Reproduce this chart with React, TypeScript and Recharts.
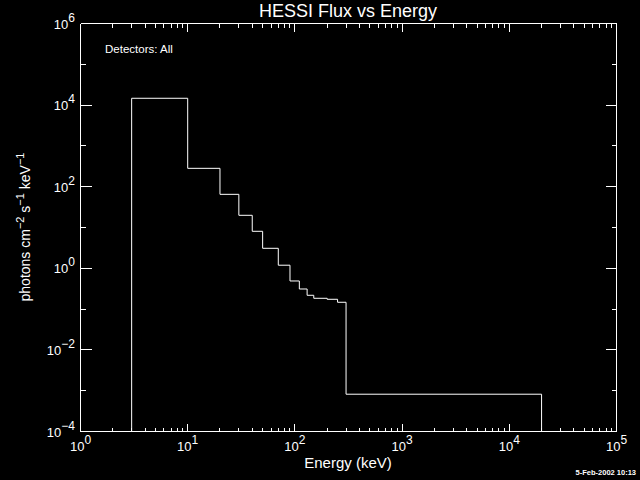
import * as React from 'react';
import { Line, LineChart, ReferenceLine, XAxis, YAxis } from 'recharts';

// bin edges (keV) and flux per bin
const binEdges = [3, 10, 20, 30, 40, 50, 70, 90, 110, 130, 150, 200, 250, 300, 20000];
const binFlux = [1.47e4, 282, 65, 19.9, 8.07, 3.09, 1.19, 0.489, 0.311, 0.218, 0.184, 0.174, 0.147, 8.2e-4];
const fluxFloor = 1e-4;

const xMajorTicks = [1, 10, 100, 1000, 10000, 100000];
const xMinorSteps = [2, 3, 4, 5, 6, 7, 8, 9];
const yTicks = [1e-4, 1e-3, 1e-2, 1e-1, 1, 10, 100, 1e3, 1e4, 1e5, 1e6];

const FONT = '"Liberation Sans", Arial, sans-serif';
const WHITE = '#ffffff';

const xMinorTicks = xMajorTicks.slice(0, -1).flatMap((m) => xMinorSteps.map((s) => m * s));

// step histogram: start at the floor, one point per bin start, close at the floor
const data = [
    { energy: binEdges[0], flux: fluxFloor },
    ...binFlux.map((f, i) => ({ energy: binEdges[i], flux: f })),
    { energy: binEdges[binEdges.length - 1], flux: fluxFloor },
];

function expOf(v: number) {
    return Math.round(Math.log10(v));
}

function fmtExp(e: number) {
    return e < 0 ? `\u2212${-e}` : String(e);
}

const snap = (v: number) => Math.round(v - 0.5) + 0.5;

function XLabel(props: any) {
    const { x, y, payload } = props;
    return (
        <text x={x} y={y + 19} textAnchor="middle" fill={WHITE} stroke="none" fontSize={13} fontFamily={FONT}>
            10
            <tspan dy={-7} fontSize={12}>
                {fmtExp(expOf(payload.value))}
            </tspan>
        </text>
    );
}

// inward x tick marks at both frame edges, drawn from the reference line's coordinates
function tickMarks(len: number) {
    return (p: any) => {
        const x = snap(p.x1);
        const top = Math.min(p.y1, p.y2);
        const bottom = Math.max(p.y1, p.y2);
        return (
            <g>
                <path
                    d={`M${x},${bottom}V${bottom - len}M${x},${top}V${top + len}`}
                    stroke={WHITE}
                    strokeWidth={1}
                    fill="none"
                    shapeRendering="crispEdges"
                />
            </g>
        );
    };
}

function YTick(props: any) {
    const { x, y, payload, side } = props;
    const e = expOf(payload.value);
    const labelled = e % 2 === 0;
    const len = labelled ? 11 : 5;
    const dir = side === 'left' ? 1 : -1;
    const sy = snap(y);
    return (
        <g>
            <path
                d={`M${x},${sy}H${x + dir * len}`}
                stroke={WHITE}
                strokeWidth={1}
                fill="none"
                shapeRendering="crispEdges"
            />
            {side === 'left' && labelled ? (
                <text x={x - 5.5} y={y + 5} textAnchor="end" fill={WHITE} stroke="none" fontSize={13} fontFamily={FONT}>
                    10
                    <tspan dy={-7} fontSize={12}>
                        {fmtExp(e)}
                    </tspan>
                </text>
            ) : null}
        </g>
    );
}

const logX = {
    dataKey: 'energy',
    type: 'number' as const,
    scale: 'log' as const,
    domain: [1, 1e5],
    allowDataOverflow: true,
    interval: 0 as const,
    ticks: xMajorTicks,
    height: 1,
    tickSize: 0,
    tickMargin: 0,
    tickLine: false,
    axisLine: { stroke: WHITE, shapeRendering: 'crispEdges' },
};

const logY = {
    type: 'number' as const,
    scale: 'log' as const,
    domain: [1e-4, 1e6],
    allowDataOverflow: true,
    interval: 0 as const,
    ticks: yTicks,
    width: 1,
    tickSize: 0,
    tickMargin: 0,
    tickLine: false,
    axisLine: { stroke: WHITE, shapeRendering: 'crispEdges' },
};

export default function App() {
    return (
        <div
            style={{
                position: 'absolute',
                left: 0,
                top: 0,
                width: 640,
                height: 480,
                background: '#000',
                overflow: 'hidden',
            }}
        >
            <LineChart
                width={640}
                height={480}
                data={data}
                margin={{ top: 22.5, right: 22.5, bottom: 47.5, left: 79.5 }}
            >
                <XAxis {...logX} xAxisId="bottom" tick={<XLabel />} />
                <XAxis {...logX} xAxisId="top" orientation="top" tick={false} />
                <YAxis {...logY} yAxisId="left" tick={(p: any) => <YTick {...p} side="left" />} />
                <YAxis
                    {...logY}
                    yAxisId="right"
                    orientation="right"
                    tick={(p: any) => <YTick {...p} side="right" />}
                />
                {xMajorTicks.map((v) => (
                    <ReferenceLine
                        key={`maj-${v}`}
                        xAxisId="bottom"
                        yAxisId="left"
                        x={v}
                        ifOverflow="extendDomain"
                        shape={tickMarks(8)}
                    />
                ))}
                {xMinorTicks.map((v) => (
                    <ReferenceLine
                        key={`min-${v}`}
                        xAxisId="bottom"
                        yAxisId="left"
                        x={v}
                        ifOverflow="extendDomain"
                        shape={tickMarks(4)}
                    />
                ))}
                <Line
                    xAxisId="bottom"
                    yAxisId="left"
                    type="stepAfter"
                    dataKey="flux"
                    stroke={WHITE}
                    strokeWidth={1}
                    dot={false}
                    activeDot={false}
                    isAnimationActive={false}
                />
            </LineChart>
            <svg
                width={640}
                height={480}
                style={{ position: 'absolute', left: 0, top: 0, pointerEvents: 'none' }}
                fontFamily={FONT}
                fill={WHITE}
            >
                <text x={348} y={17} textAnchor="middle" fontSize={18}>
                    HESSI Flux vs Energy
                </text>
                <text x={105} y={53} fontSize={11.5}>
                    Detectors: All
                </text>
                <text x={348} y={468} textAnchor="middle" fontSize={15}>
                    Energy (keV)
                </text>
                <text
                    x={0}
                    y={0}
                    textAnchor="middle"
                    fontSize={14}
                    transform="translate(30 227) rotate(-90)"
                >
                    photons cm
                    <tspan dy={-6} fontSize={11}>
                        {'\u22122'}
                    </tspan>
                    <tspan dy={6}> s</tspan>
                    <tspan dy={-6} fontSize={11}>
                        {'\u22121'}
                    </tspan>
                    <tspan dy={6}> keV</tspan>
                    <tspan dy={-6} fontSize={11}>
                        {'\u22121'}
                    </tspan>
                </text>
                <text x={636} y={475} textAnchor="end" fontSize={7.5} fontWeight="bold">
                    5-Feb-2002 10:13
                </text>
            </svg>
        </div>
    );
}
